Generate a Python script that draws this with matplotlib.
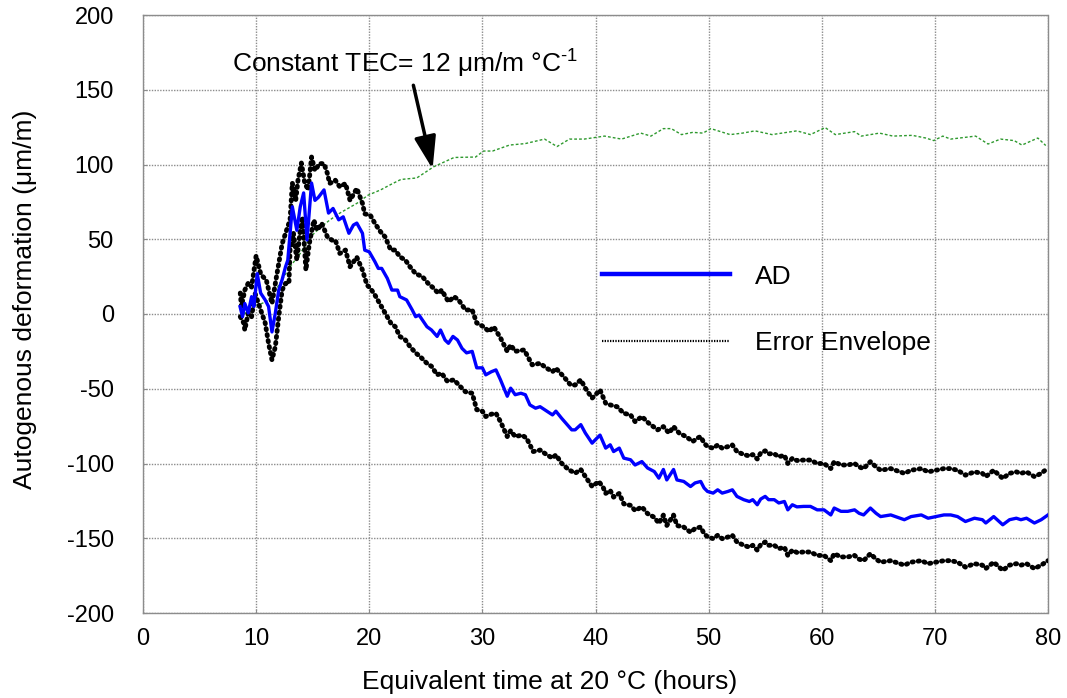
import matplotlib
matplotlib.use("Agg")
import matplotlib.pyplot as plt
from matplotlib.lines import Line2D

plt.rcParams['font.family'] = ['Liberation Sans', 'DejaVu Sans']
plt.rcParams['mathtext.fontset'] = 'custom'
plt.rcParams['mathtext.rm'] = 'Liberation Sans'
plt.rcParams['mathtext.it'] = 'Liberation Sans:italic'
plt.rcParams['mathtext.bf'] = 'Liberation Sans:bold'
plt.rcParams['axes.unicode_minus'] = False

# ---------------- data ----------------
t_ad = [8.58, 8.8, 9.0, 9.3, 9.6, 9.8, 10.1, 10.4, 10.8, 11.1, 11.4, 11.7, 12.0, 12.3, 12.6, 12.8,
        13.0, 13.2, 13.6, 13.9, 14.2, 14.5, 14.9, 15.2, 15.5, 16.0, 16.4, 16.8, 17.3, 17.7, 18.2,
        18.6, 18.9, 19.4, 19.6, 20.0, 20.5, 20.8, 21.1, 21.6, 22.0, 22.5, 22.7, 23.0, 23.3, 23.8,
        24.1, 24.4, 24.7, 25.1, 25.5, 26.0, 26.3, 26.7, 27.0, 27.4, 27.8, 28.2, 28.6, 29.1, 29.5,
        30.0, 30.3, 30.8, 31.2, 31.6, 32.2, 32.5, 32.9, 33.4, 33.8, 34.2, 34.7, 35.1, 35.7, 36.2,
        36.5, 37.0, 37.5, 37.9, 38.2, 38.7, 39.1, 39.7, 40.0, 40.4, 40.9, 41.3, 41.6, 42.1, 42.5,
        43.1, 43.5, 44.1, 44.6, 45.2, 45.6, 46.0, 46.3, 46.9, 47.2, 47.8, 48.4, 48.8, 49.3, 49.6,
        49.9, 50.4, 50.8, 51.2, 51.7, 52.1, 52.5, 53.1, 53.6, 53.9, 54.3, 54.6, 55.0, 55.3, 55.8,
        56.2, 56.7, 57.0, 57.4, 57.8, 58.4, 59.0, 59.6, 60.2, 60.8, 61.1, 61.7, 62.3, 62.9, 63.3,
        63.7, 64.3, 64.8, 65.2, 66.1, 67.3, 67.9, 68.8, 69.4, 70.1, 70.8, 71.4, 72.0, 72.7, 73.5,
        74.2, 74.5, 75.2, 76.0, 76.6, 77.2, 77.6, 78.1, 78.8, 79.4, 80.0]
ad = [4.9, -1.8, 7, 0.7, 11.6, 5, 27, 14, 9.4, 5, -12, 0.7, 16, 23, 31.6, 36,
      54, 71.7, 56, 71.7, 81, 49.5, 87.6, 76, 78, 83, 67.5, 70.6, 63, 65, 54,
      59.5, 60.8, 54, 42.7, 41.6, 35, 30.5, 30.5, 23.8, 16, 16, 11.6, 10.5, 9.4, 2.7,
      -1.8, -0.7, -4, -8.5, -10.7, -15, -10.7, -17.4, -19.6, -15, -17.4, -23, -26, -25, -36,
      -36, -40.7, -38.6, -37.4, -44, -55, -49.6, -54, -53, -54, -60.8, -63, -62, -65, -67.5,
      -65, -69.7, -74, -77.5, -77.5, -74, -79.6, -86.4, -84, -81, -89.7, -87.5, -92, -89.7, -96.4,
      -97.5, -101, -98.7, -103, -105.4, -109.8, -104, -111, -104, -111, -112, -115.4, -113, -112, -116.4,
      -118.7, -119.8, -117.6, -119.8, -118.7, -117.6, -122, -124.2, -125.4, -124.2, -127.6, -123.8, -122, -124.2, -124.2,
      -126.4, -125.4, -131, -127.6, -129, -128.7, -128.7, -131, -131, -134.4, -129.8, -132, -132, -131, -133.3,
      -134.4, -129.8, -133.3, -135.5, -134.4, -137.6, -135.5, -134.4, -136.6, -135.5, -134.4, -134.4, -135.5, -138.8, -136.6,
      -137.6, -139.8, -135.5, -141, -137.6, -136.6, -137.6, -136.6, -139.8, -137.6, -134.4]

t_upper = [8.6, 8.7, 9.0, 9.3, 9.6, 10.0, 10.4, 10.6, 10.9, 11.4, 11.8, 12.3, 12.6, 13.0, 13.2, 13.5,
           13.7, 14.0, 14.3, 14.6, 14.9, 15.2, 15.6, 16.0, 16.3, 16.5, 17.0, 17.4, 17.9, 18.3, 18.9,
           19.4, 19.6, 20.1, 20.5, 21.0, 21.4, 21.9, 22.3, 22.7, 23.2, 23.6, 24.1, 24.7, 25.2, 25.7,
           26.1, 26.4, 27.0, 27.5, 27.9, 28.5, 29.1, 29.5, 30.1, 30.6, 31.0, 31.6, 32.2, 32.5, 32.9,
           33.7, 34.4, 35.1, 35.7, 36.2, 36.5, 37.2, 37.8, 38.2, 38.7, 39.1, 39.7, 40.0, 40.4, 40.9,
           41.3, 41.9, 42.5, 43.1, 43.5, 44.1, 44.7, 45.5, 46.0, 46.5, 46.9, 47.4, 48.0, 48.6, 49.0,
           49.3, 49.6, 49.9, 50.4, 50.8, 51.2, 51.7, 52.1, 52.5, 53.1, 53.6, 53.9, 54.3, 54.6, 55.0,
           55.3, 55.8, 56.2, 56.7, 57.0, 57.4, 57.8, 58.4, 59.0, 59.6, 60.2, 60.8, 61.1, 61.7, 62.3,
           62.9, 63.3, 63.7, 64.3, 64.8, 65.2, 66.1, 67.3, 67.9, 68.8, 69.4, 70.1, 70.8, 71.4, 72.0,
           72.7, 73.5, 74.2, 74.5, 75.2, 76.0, 76.6, 77.2, 77.6, 78.1, 78.8, 79.4, 80.0]
upper = [14, 5, 16, 20.6, 18, 39, 27, 25, 22.7, 7, 25, 47, 54, 63, 87.6, 76,
         89.5, 101, 87.6, 83, 105, 96, 100.6, 100.6, 94, 87.3, 89.5, 85, 87.3, 76, 84,
         74, 67, 66, 60.6, 55, 51.6, 42.8, 42.8, 38.3, 36, 31.6, 27, 25, 20.5, 17.2,
         13.8, 16, 8.2, 11.6, 9.4, 2.7, 2.7, -6, -8.5, -11.8, -8.5, -16, -25, -20.7, -25,
         -24, -34, -33, -36.3, -38.6, -36.3, -42, -47.5, -47.5, -44, -49.6, -56.3, -54, -50.8, -59.7,
         -60.8, -62, -66.4, -67.5, -72, -68.6, -73, -77.5, -75.3, -79.7, -75.3, -79.7, -82, -85.3, -83,
         -82, -86.4, -88.7, -89.8, -87.6, -89.8, -88.7, -87.6, -92, -94, -95, -94, -97, -93, -91.5,
         -93.5, -93.5, -95.5, -94.5, -100, -96.5, -98, -97.7, -97.7, -100, -100, -103.4, -98.8, -101, -101,
         -100, -102.3, -103.4, -98.8, -102.3, -104.5, -103.4, -106.6, -104.5, -103.4, -105.6, -104.5, -103.4, -103.4, -104.5,
         -107.8, -105.6, -106.6, -108.8, -104.5, -110, -106.6, -105.6, -106.6, -105.6, -108.8, -106.6, -103]

t_lower = [8.6, 8.9, 9.0, 9.3, 9.6, 9.9, 10.4, 10.8, 11.1, 11.4, 11.7, 12.0, 12.3, 12.6, 12.9, 13.0,
           13.3, 13.6, 13.9, 14.1, 14.4, 14.7, 15.1, 15.4, 15.8, 16.3, 16.7, 17.0, 17.4, 17.9, 18.3,
           18.9, 19.4, 19.8, 20.1, 20.5, 21.0, 21.4, 21.9, 22.3, 22.7, 23.2, 23.6, 24.1, 24.5, 25.1,
           25.5, 26.0, 26.4, 26.9, 27.5, 27.9, 28.5, 29.1, 29.5, 30.0, 30.3, 30.8, 31.2, 31.6, 32.2,
           32.5, 32.9, 33.5, 33.9, 34.5, 35.1, 35.7, 36.2, 36.5, 37.0, 37.6, 38.2, 38.7, 39.1, 39.7,
           40.3, 40.7, 40.9, 41.3, 41.6, 42.1, 42.5, 43.1, 43.5, 44.1, 44.6, 45.2, 45.6, 46.0, 46.3,
           46.9, 47.2, 47.8, 48.4, 48.8, 49.3, 49.6, 49.9, 50.4, 50.8, 51.2, 51.7, 52.1, 52.5, 53.1,
           53.6, 53.9, 54.3, 54.6, 55.0, 55.3, 55.8, 56.2, 56.7, 57.0, 57.4, 57.8, 58.4, 59.0, 59.6,
           60.2, 60.8, 61.1, 61.7, 62.3, 62.9, 63.3, 63.7, 64.3, 64.8, 65.2, 66.1, 67.3, 67.9, 68.8,
           69.4, 70.1, 70.8, 71.4, 72.0, 72.7, 73.5, 74.2, 74.5, 75.2, 76.0, 76.6, 77.2, 77.6, 78.1,
           78.8, 79.4, 80.0]
lower = [-1.8, -6, -10.7, 0.7, -1.8, 13.8, 2.7, -6, -19.6, -30.7, -21.8, -1.8, 16, 20.5, 20.5, 42.8,
         54, 36, 56, 65, 29.4, 47, 62.8, 56, 60.6, 51.6, 49.4, 49.4, 40.5, 42.8, 31.6,
         38, 29.4, 19.4, 17.2, 12.7, 6, 0.5, -6, -8.5, -15, -17.4, -21.8, -26, -28.5, -33,
         -35, -40.7, -39.6, -45, -44, -47.4, -52, -53, -64, -65, -68.6, -67, -66.4, -72, -82,
         -78, -82, -81, -83, -92, -91, -94.2, -96.4, -94.2, -99.8, -104, -106.5, -104, -108.7, -115.4,
         -112, -116.4, -120, -118, -122.5, -120, -127, -128, -131.5, -129, -133.5, -136, -140, -134.5, -141.5,
         -134.5, -141.5, -142.5, -146, -143.5, -142.5, -147, -149, -150.3, -148, -150.3, -149.2, -148, -152.5, -154.7,
         -156, -154.7, -158, -154.3, -152.5, -154.7, -154.7, -157, -156, -161.5, -158, -159.5, -159.2, -159.2, -161.5,
         -161.5, -165, -160.3, -162.5, -162.5, -161.5, -164, -165, -160.3, -164, -166, -165, -168, -166, -165,
         -167, -166, -165, -165, -166, -169.3, -167, -168, -170.3, -166, -171.5, -168, -167, -168, -167,
         -170.3, -168, -165]

t_tec = [8.6, 9.9, 11.2, 12.1, 13.0, 13.9, 14.8, 15.7, 16.5, 17.4, 18.9, 19.9, 21.0, 22.0, 22.8,
         24.2, 25.7, 27.5, 29.4, 30.1, 30.9, 32.4, 33.8, 35.5, 36.6, 37.7, 39.0, 40.8, 42.3, 44.0,
         44.9, 46.0, 46.7, 47.6, 48.6, 49.5, 50.2, 51.9, 53.0, 54.1, 55.6, 57.8, 59.0, 60.3, 61.2,
         62.9, 63.5, 65.1, 66.3, 68.0, 69.2, 69.9, 70.7, 71.4, 73.6, 74.7, 75.8, 77.0, 77.7, 79.1, 79.8]
tec = [-1.8, 5, 9.4, 20.6, 31.6, 40.5, 51.6, 58, 62.8, 67.5, 74, 79.5, 83, 87, 90,
       91, 98.5, 104.7, 105, 109, 109, 113, 114, 117, 112, 117, 117, 119, 117, 121,
       119, 124, 124, 120, 121.5, 121, 124, 120, 121, 122.5, 120, 122.5, 120, 124.7, 120,
       122, 119, 121, 119, 119.5, 117.7, 116, 119, 117, 119, 113.7, 117, 116, 113, 117.7, 112.7]

x_ticks = [0, 10, 20, 30, 40, 50, 60, 70, 80]
y_ticks = [-200, -150, -100, -50, 0, 50, 100, 150, 200]

# ---------------- figure ----------------
fig = plt.figure(figsize=(10.67, 6.98), dpi=100)
ax = fig.add_axes([143 / 1067, 85 / 698, 905 / 1067, 598 / 698])

grid_kw = dict(color='#8c8c8c', linestyle=(0, (1, 1)), linewidth=1.0)
ax.grid(True, **grid_kw)
for s in ax.spines.values():
    s.set_color('#8c8c8c')
    s.set_linestyle((0, (1, 1)))
    s.set_linewidth(1.0)

ax.plot(t_tec, tec, color='#2e992e', linewidth=1.0, linestyle=(0, (2, 1.5)), zorder=3)
env_style = dict(color='black', linewidth=3.5, linestyle=(0, (0.25, 1.0)),
                 dash_capstyle='round', zorder=4)
ax.plot(t_upper, upper, **env_style)
ax.plot(t_lower, lower, **env_style)
ax.plot(t_ad, ad, color='#0000ff', linewidth=2.4, zorder=5)

ax.set_xlim(0, 80)
ax.set_ylim(-200, 200)
ax.set_xticks(x_ticks)
ax.set_yticks(y_ticks)
ax.tick_params(axis='both', direction='in', length=3, color='#8c8c8c', labelsize=17)
ax.tick_params(axis='x', pad=11)
ax.tick_params(axis='y', pad=21)
ax.set_axisbelow(True)

ax.set_xlabel('Equivalent time at 20 °C (hours)', fontsize=19, labelpad=10)
ax.xaxis.set_label_coords(0.449, -0.095)
ax.set_ylabel('Autogenous deformation (μm/m)', fontsize=19, labelpad=18)
ax.yaxis.set_label_coords(-0.117, 0.525)

ax.text(7.85, 167.5, 'Constant TEC= 12 μm/m °C$^{\\text{-}1}$', fontsize=19,
        ha='left', va='center', zorder=6)
ax.annotate('', xy=(25.6, 97), xytext=(23.9, 153),
            arrowprops=dict(arrowstyle='-|>,head_length=0.9,head_width=0.3',
                            lw=2.5, color='black', mutation_scale=22, shrinkA=0, shrinkB=0),
            zorder=6)

handles = [Line2D([], [], color='#0000ff', linewidth=3.2),
           Line2D([], [], color='black', linewidth=1.6, linestyle=(0, (0.6, 0.6)))]
leg = ax.legend(handles, ['AD', 'Error Envelope'], loc='center left',
                bbox_to_anchor=(0.507, 0.507), frameon=False, fontsize=19,
                handlelength=4.85, handletextpad=0.95, labelspacing=1.6,
                borderpad=0, borderaxespad=0)
leg.set_zorder(7)

fig.savefig('out.png', dpi=100)
